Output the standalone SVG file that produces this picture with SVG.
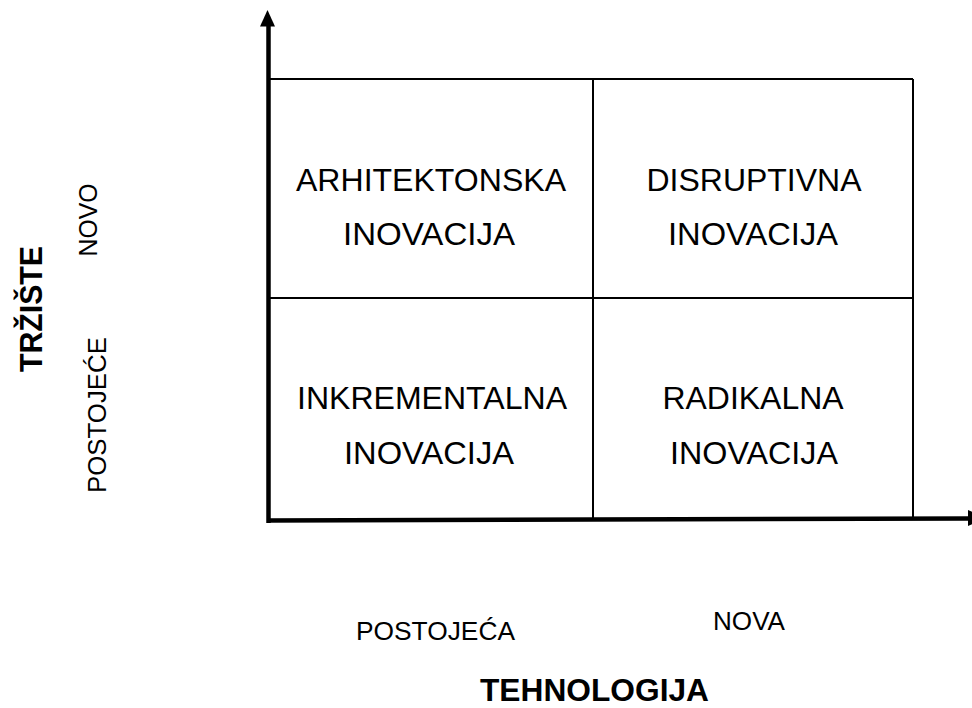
<svg xmlns="http://www.w3.org/2000/svg" width="972" height="708" viewBox="0 0 972 708">
<style>
.t{font-family:"Liberation Sans",Arial,sans-serif;fill:#000;text-anchor:middle}
.c{font-size:32px}
.s{font-size:26px}
.b{font-weight:bold;font-size:31px}
.g{fill:none;stroke:#000;stroke-width:2}
.ax{stroke:#000;stroke-width:4.5;fill:none}
</style>
<rect width="972" height="708" fill="#fff"/>
<g id="connectors">
<line class="ax" x1="268.5" y1="523" x2="268.5" y2="24"/>
<polygon points="267.5,10 260,26.5 275,26.5" fill="#000"/>
<line class="ax" x1="267" y1="520.5" x2="970" y2="518.5"/>
<polygon points="968,510 968,526 986,518" fill="#000"/>
</g>
<g id="grid">
<line class="g" x1="270" y1="79" x2="913" y2="79"/>
<line class="g" x1="913" y1="79" x2="913" y2="519"/>
<line class="g" x1="593" y1="79" x2="593" y2="520"/>
<line class="g" x1="270" y1="298" x2="913" y2="298"/>
</g>
<g id="arhitektonska">
<text class="t c" x="431" y="191" textLength="270" lengthAdjust="spacingAndGlyphs">ARHITEKTONSKA</text>
<text class="t c" x="429" y="245" textLength="172" lengthAdjust="spacingAndGlyphs">INOVACIJA</text>
</g>
<g id="disruptivna">
<text class="t c" x="754" y="191" textLength="215" lengthAdjust="spacingAndGlyphs">DISRUPTIVNA</text>
<text class="t c" x="753" y="245" textLength="170" lengthAdjust="spacingAndGlyphs">INOVACIJA</text>
</g>
<g id="inkrementalna">
<text class="t c" x="432" y="409" textLength="270" lengthAdjust="spacingAndGlyphs">INKREMENTALNA</text>
<text class="t c" x="429" y="464" textLength="170" lengthAdjust="spacingAndGlyphs">INOVACIJA</text>
</g>
<g id="radikalna">
<text class="t c" x="753" y="409" textLength="181" lengthAdjust="spacingAndGlyphs">RADIKALNA</text>
<text class="t c" x="754" y="464" textLength="168" lengthAdjust="spacingAndGlyphs">INOVACIJA</text>
</g>
<g id="x-labels">
<text class="t s" x="435.5" y="640" textLength="159" lengthAdjust="spacingAndGlyphs">POSTOJEĆA</text>
<text class="t s" x="749" y="630" textLength="72" lengthAdjust="spacingAndGlyphs">NOVA</text>
<text class="t b" x="594.5" y="701" textLength="229" lengthAdjust="spacingAndGlyphs">TEHNOLOGIJA</text>
</g>
<g id="y-labels">
<text class="t s" transform="translate(97,220) rotate(-90)" x="0" y="0" textLength="73" lengthAdjust="spacingAndGlyphs">NOVO</text>
<text class="t s" transform="translate(106,415) rotate(-90)" x="0" y="0" textLength="156" lengthAdjust="spacingAndGlyphs">POSTOJEĆE</text>
<text class="t b" transform="translate(42,309) rotate(-90)" x="0" y="0" textLength="126" lengthAdjust="spacingAndGlyphs">TRŽIŠTE</text>
</g>
</svg>
